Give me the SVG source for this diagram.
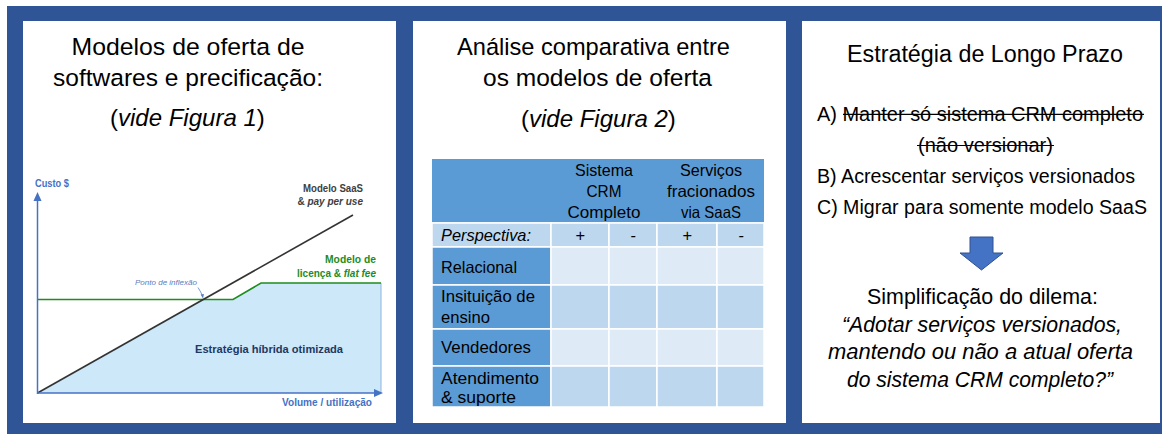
<svg xmlns="http://www.w3.org/2000/svg" width="1162" height="434" viewBox="0 0 1162 434">
<style>
  text { font-family: "Liberation Sans", Arial, sans-serif; fill: #000; }
  .title { font-size: 24.5px; }
  .t3 { font-size: 20px; }
  .t3b { font-size: 21.5px; }
  .tb { font-size: 16.5px; }
  .ch { font-weight: bold; font-size: 10px; }
  .it { font-style: italic; }
  .hdr { fill: #5B9BD5; stroke: #fff; stroke-width: 1.5; }
  .mid { fill: #BDD7EE; stroke: #fff; stroke-width: 1.5; }
  .lt { fill: #DEEAF6; stroke: #fff; stroke-width: 1.5; }
  .axis { stroke: #4472C4; stroke-width: 1.5; fill: none; }
  .strike { stroke: #000; stroke-width: 1.2; }
</style>
<rect x="0" y="0" width="1162" height="434" fill="#fff"/>
<rect x="7" y="6" width="1155" height="428" fill="#2F5597"/>

<g id="panel1">
  <rect x="23" y="21" width="373" height="402" fill="#fff"/>
  <text class="title" x="188" y="55" text-anchor="middle" textLength="233" lengthAdjust="spacingAndGlyphs">Modelos de oferta de</text>
  <text class="title" x="188" y="86" text-anchor="middle" textLength="270" lengthAdjust="spacingAndGlyphs">softwares e precificação:</text>
  <text class="title" x="110" y="126" style="font-size:24px">(<tspan class="it">vide Figura 1</tspan>)</text>
</g>

<g id="chart">
  <polygon points="37.5,393 202,299.5 233,299.5 261,283 381,283 381,393" fill="#CDE8F8"/>
  <line x1="381" y1="283" x2="381" y2="393" stroke="#8FB4E0" stroke-width="1"/>
  <polyline points="37,299.5 233,299.5 261,283 381,283" fill="none" stroke="#1E8C1E" stroke-width="1.6"/>
  <line x1="37.5" y1="393" x2="353" y2="215" stroke="#333" stroke-width="1.6"/>
  <line class="axis" x1="37.5" y1="394" x2="37.5" y2="199"/>
  <polygon points="37.5,192 33.5,201 41.5,201" fill="#4472C4"/>
  <line class="axis" x1="37" y1="393" x2="375" y2="393"/>
  <polygon points="383,393 374,389 374,397" fill="#4472C4"/>
  <text class="ch" x="35" y="187" style="fill:#4472C4" textLength="34" lengthAdjust="spacingAndGlyphs">Custo $</text>
  <text class="ch" x="282" y="406" style="fill:#4472C4" textLength="90" lengthAdjust="spacingAndGlyphs">Volume / utilização</text>
  <text class="ch" x="363" y="192" text-anchor="end" style="fill:#404040" textLength="60" lengthAdjust="spacingAndGlyphs">Modelo SaaS</text>
  <text class="ch" x="363" y="205" text-anchor="end" style="fill:#404040">&amp; <tspan class="it">pay per use</tspan></text>
  <text class="ch" x="376" y="263" text-anchor="end" style="fill:#1E8C1E" textLength="51" lengthAdjust="spacingAndGlyphs">Modelo de</text>
  <text class="ch" x="376" y="277" text-anchor="end" style="fill:#1E8C1E">licença &amp; <tspan class="it">flat fee</tspan></text>
  <text x="195" y="353" style="fill:#203864;font-weight:bold;font-size:11px" textLength="148" lengthAdjust="spacingAndGlyphs">Estratégia híbrida otimizada</text>
  <text class="it" x="135" y="285" style="fill:#5A7EC0;font-size:7.5px" textLength="62" lengthAdjust="spacingAndGlyphs">Ponto de inflexão</text>
</g>

<g id="panel2">
  <rect x="413" y="21" width="373" height="402" fill="#fff"/>
  <text class="title" x="593.5" y="55" text-anchor="middle" textLength="273" lengthAdjust="spacingAndGlyphs">Análise comparativa entre</text>
  <text class="title" x="597.5" y="86" text-anchor="middle" textLength="229" lengthAdjust="spacingAndGlyphs">os modelos de oferta</text>
  <text class="title" x="521" y="127" style="font-size:24px">(<tspan class="it">vide Figura 2</tspan>)</text>
</g>

<g id="table">
  <rect x="432" y="159" width="332" height="64" fill="#5B9BD5"/>
  <line x1="432" y1="223" x2="764" y2="223" stroke="#fff" stroke-width="1.5"/>
  <rect class="mid" x="432" y="223" width="119" height="24"/>
  <rect class="mid" x="551" y="223" width="58" height="24"/>
  <rect class="mid" x="609" y="223" width="48" height="24"/>
  <rect class="mid" x="657" y="223" width="60" height="24"/>
  <rect class="mid" x="717" y="223" width="47" height="24"/>
  <rect class="hdr" x="432" y="247" width="119" height="38"/>
  <rect class="lt" x="551" y="247" width="58" height="38"/>
  <rect class="lt" x="609" y="247" width="48" height="38"/>
  <rect class="lt" x="657" y="247" width="60" height="38"/>
  <rect class="lt" x="717" y="247" width="47" height="38"/>
  <rect class="hdr" x="432" y="285" width="119" height="44"/>
  <rect class="mid" x="551" y="285" width="58" height="44"/>
  <rect class="mid" x="609" y="285" width="48" height="44"/>
  <rect class="mid" x="657" y="285" width="60" height="44"/>
  <rect class="mid" x="717" y="285" width="47" height="44"/>
  <rect class="hdr" x="432" y="329" width="119" height="37"/>
  <rect class="lt" x="551" y="329" width="58" height="37"/>
  <rect class="lt" x="609" y="329" width="48" height="37"/>
  <rect class="lt" x="657" y="329" width="60" height="37"/>
  <rect class="lt" x="717" y="329" width="47" height="37"/>
  <rect class="hdr" x="432" y="366" width="119" height="41"/>
  <rect class="mid" x="551" y="366" width="58" height="41"/>
  <rect class="mid" x="609" y="366" width="48" height="41"/>
  <rect class="mid" x="657" y="366" width="60" height="41"/>
  <rect class="mid" x="717" y="366" width="47" height="41"/>
  <text class="tb" x="604" y="176" text-anchor="middle" textLength="58" lengthAdjust="spacingAndGlyphs">Sistema</text>
  <text class="tb" x="604" y="197" text-anchor="middle" textLength="35" lengthAdjust="spacingAndGlyphs">CRM</text>
  <text class="tb" x="604" y="218" text-anchor="middle" textLength="73" lengthAdjust="spacingAndGlyphs">Completo</text>
  <text class="tb" x="711" y="176" text-anchor="middle" textLength="62" lengthAdjust="spacingAndGlyphs">Serviços</text>
  <text class="tb" x="711" y="197" text-anchor="middle" textLength="88" lengthAdjust="spacingAndGlyphs">fracionados</text>
  <text class="tb" x="711" y="218" text-anchor="middle" textLength="60" lengthAdjust="spacingAndGlyphs">via SaaS</text>
  <text class="tb it" x="441" y="241" textLength="90" lengthAdjust="spacingAndGlyphs">Perspectiva:</text>
  <text class="tb it" x="580" y="241" text-anchor="middle">+</text>
  <text class="tb it" x="633" y="241" text-anchor="middle">-</text>
  <text class="tb it" x="687" y="241" text-anchor="middle">+</text>
  <text class="tb it" x="741" y="241" text-anchor="middle">-</text>
  <text class="tb" x="441" y="273" textLength="76" lengthAdjust="spacingAndGlyphs">Relacional</text>
  <text class="tb" x="441" y="302" textLength="94" lengthAdjust="spacingAndGlyphs">Insituição de</text>
  <text class="tb" x="441" y="323" textLength="49" lengthAdjust="spacingAndGlyphs">ensino</text>
  <text class="tb" x="441" y="353" textLength="90" lengthAdjust="spacingAndGlyphs">Vendedores</text>
  <text class="tb" x="441" y="384" textLength="98" lengthAdjust="spacingAndGlyphs">Atendimento</text>
  <text class="tb" x="441" y="403" textLength="75" lengthAdjust="spacingAndGlyphs">&amp; suporte</text>
</g>

<g id="panel3">
  <rect x="802" y="21" width="358" height="402" fill="#fff"/>
  <text class="title" x="985" y="62" text-anchor="middle" textLength="276" lengthAdjust="spacingAndGlyphs" style="font-size:23.5px">Estratégia de Longo Prazo</text>
  <text class="t3" x="817" y="121" textLength="326" lengthAdjust="spacingAndGlyphs">A) Manter só sistema CRM completo</text>
  <line class="strike" x1="843" y1="114.3" x2="1144" y2="114.3"/>
  <text class="t3" x="918" y="152" textLength="135" lengthAdjust="spacingAndGlyphs">(não versionar)</text>
  <line class="strike" x1="917" y1="145.5" x2="1054" y2="145.5"/>
  <text class="t3" x="817" y="183" textLength="318" lengthAdjust="spacingAndGlyphs">B) Acrescentar serviços versionados</text>
  <text class="t3" x="817" y="214" textLength="330" lengthAdjust="spacingAndGlyphs">C) Migrar para somente modelo SaaS</text>
  <text class="t3b" x="867" y="304" textLength="231" lengthAdjust="spacingAndGlyphs">Simplificação do dilema:</text>
  <text class="t3b it" x="842" y="332" textLength="280" lengthAdjust="spacingAndGlyphs">“Adotar serviços versionados,</text>
  <text class="t3b it" x="828" y="359" textLength="305" lengthAdjust="spacingAndGlyphs">mantendo ou não a atual oferta</text>
  <text class="t3b it" x="847" y="387" textLength="266" lengthAdjust="spacingAndGlyphs">do sistema CRM completo?”</text>
</g>

<g id="connectors">
  <path d="M970,237 H993 V253 H1003 L981.5,270 L960,253 H970 Z" fill="#4472C4" stroke="#2F528F" stroke-width="1"/>
  <path d="M198,287.5 Q201,292 202.5,296" fill="none" stroke="#5A7EC0" stroke-width="0.8"/>
  <polygon points="203,298.5 200.6,294.6 204,294" fill="#5A7EC0"/>
</g>
</svg>
